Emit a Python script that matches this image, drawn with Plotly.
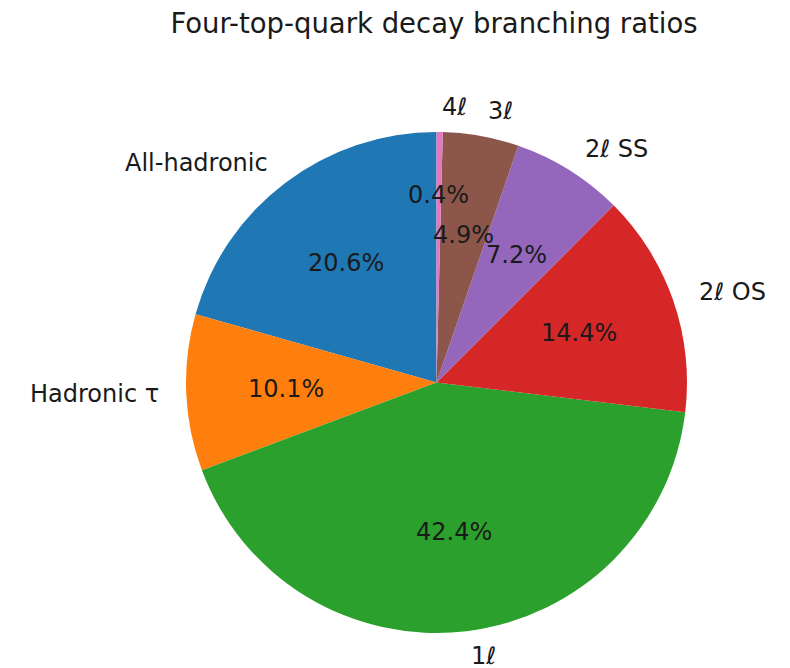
import math
import plotly.graph_objects as go

# ---- data ----
labels = ["All-hadronic", "Hadronic τ", "1ℓ", "2ℓ OS", "2ℓ SS", "3ℓ", "4ℓ"]
values = [20.6, 10.1, 42.4, 14.4, 7.2, 4.9, 0.4]
colors = ["#1f77b4", "#ff7f0e", "#2ca02c", "#d62728", "#9467bd", "#8c564b", "#e377c2"]
title = "Four-top-quark decay branching ratios"

# ---- layout / style ----
W, H = 790, 668
cx, cy, R = 436.5, 382.5, 250.5          # pie centre & radius in pixels
label_dist = 1.1
pct_dist = 0.6
pct_dist_small = 0.75                     # tiny slice percentage pushed outward
FONT = "DejaVu Sans"
TXT = "#1a1a1a"

total = sum(values)
# plotly keeps the first slice clockwise of 'rotation'; shift so that the
# first wedge starts at 12 o'clock and runs counterclockwise (matplotlib style)
rot = -360 * values[0] / total

fig = go.Figure(go.Pie(
    labels=labels,
    values=values,
    marker=dict(colors=colors, line=dict(width=0)),
    sort=False,
    direction="counterclockwise",
    rotation=rot,
    textinfo="none",
    showlegend=False,
    domain=dict(x=[(cx - R) / W, (cx + R) / W],
                y=[1 - (cy + R) / H, 1 - (cy - R) / H]),
))

ann = []
cum = 0.0
for lab, v in zip(labels, values):
    start = 90 + 360 * cum / total
    cum += v
    end = 90 + 360 * cum / total
    mid = math.radians((start + end) / 2)
    c, s = math.cos(mid), math.sin(mid)
    # outer label
    lx, ly = cx + label_dist * R * c, cy - label_dist * R * s
    ann.append(dict(x=lx / W, y=1 - ly / H, xref="paper", yref="paper",
                    text=lab, showarrow=False,
                    xanchor="left" if c > 0 else "right", yanchor="middle",
                    font=dict(family=FONT, size=24, color=TXT)))
    # percentage
    frac = 100 * v / total
    d = pct_dist_small if frac < 1 else pct_dist
    px, py = cx + d * R * c, cy - d * R * s
    ann.append(dict(x=px / W, y=1 - py / H, xref="paper", yref="paper",
                    text=f"{frac:.1f}%", showarrow=False,
                    xanchor="center", yanchor="middle",
                    font=dict(family=FONT, size=24, color=TXT)))

fig.update_layout(
    width=W, height=H,
    margin=dict(l=0, r=0, t=0, b=0),
    paper_bgcolor="white", plot_bgcolor="white",
    title=dict(text=title, x=434 / W, xanchor="center",
               y=1 - 23 / H, yanchor="middle",
               font=dict(family=FONT, size=27.5, color=TXT)),
    annotations=ann,
)

fig.write_html("out.html",
               config={"displayModeBar": False},
               post_script="document.body.style.margin='0';")
